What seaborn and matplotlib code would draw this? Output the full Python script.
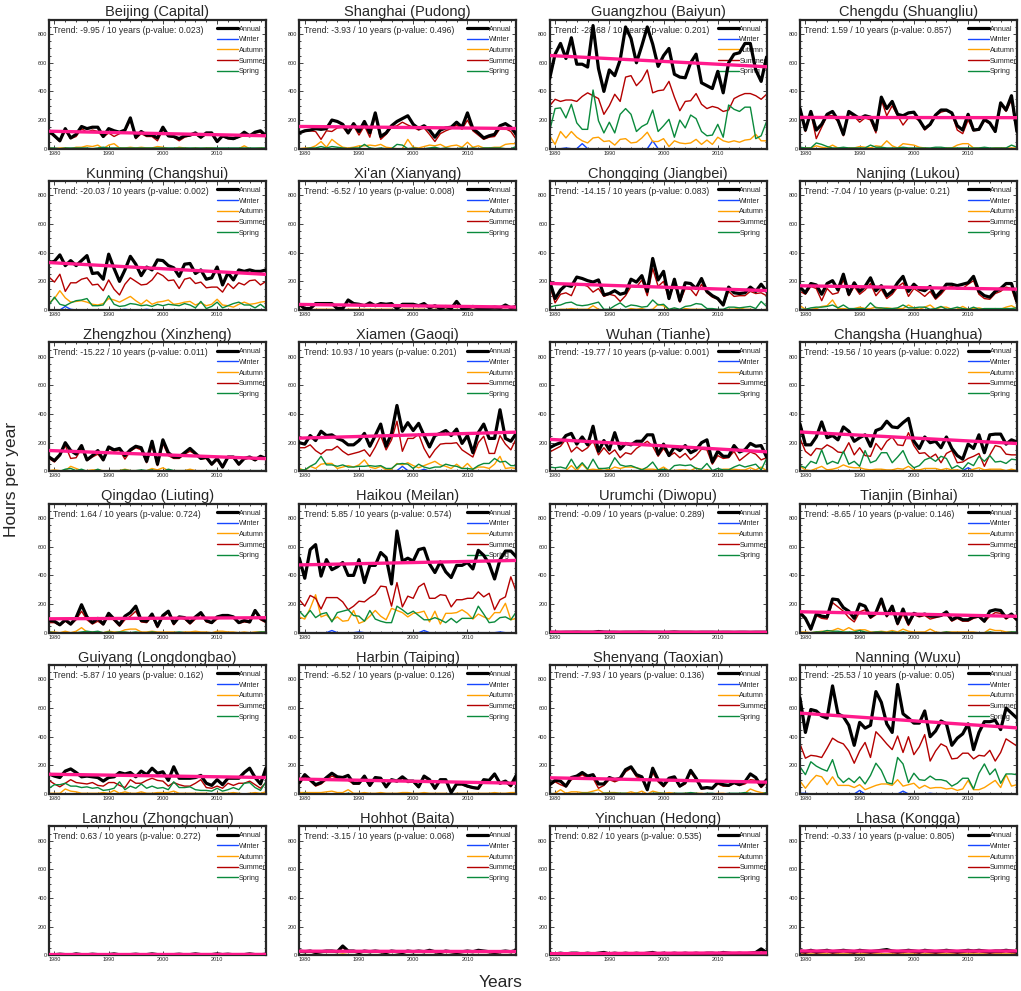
import numpy as np
import matplotlib
matplotlib.use("Agg")
import matplotlib.pyplot as plt
from matplotlib.ticker import MultipleLocator
import seaborn as sns

years = list(range(1979, 2020))

stations = ["Beijing (Capital)", "Shanghai (Pudong)", "Guangzhou (Baiyun)", "Chengdu (Shuangliu)",
            "Kunming (Changshui)", "Xi'an (Xianyang)", "Chongqing (Jiangbei)", "Nanjing (Lukou)",
            "Zhengzhou (Xinzheng)", "Xiamen (Gaoqi)", "Wuhan (Tianhe)", "Changsha (Huanghua)",
            "Qingdao (Liuting)", "Haikou (Meilan)", "Urumchi (Diwopu)", "Tianjin (Binhai)",
            "Guiyang (Longdongbao)", "Harbin (Taiping)", "Shenyang (Taoxian)", "Nanning (Wuxu)",
            "Lanzhou (Zhongchuan)", "Hohhot (Baita)", "Yinchuan (Hedong)", "Lhasa (Kongga)"]
trend_labels = ["-9.95", "-3.93", "-28.68", "1.59", "-20.03", "-6.52", "-14.15", "-7.04",
                "-15.22", "10.93", "-19.77", "-19.56", "1.64", "5.85", "-0.09", "-8.65",
                "-5.87", "-6.52", "-7.93", "-25.53", "0.63", "-3.15", "0.82", "-0.33"]
pvalue_labels = ["0.023", "0.496", "0.201", "0.857", "0.002", "0.008", "0.083", "0.21",
                 "0.011", "0.201", "0.001", "0.022", "0.724", "0.574", "0.289", "0.146",
                 "0.162", "0.126", "0.136", "0.05", "0.272", "0.068", "0.535", "0.805"]

none41 = [0, 0,0,0,0,0,0,0,0,0,0, 0,0,0,0,0,0,0,0,0,0, 0,0,0,0,0,0,0,0,0,0, 0,0,0,0,0,0,0,0,0,0]

# ---- Beijing
beijing_annual = [125, 90,55,140,75,100,155,140,150,150,85, 140,125,115,130,215,80,120,95,95,75, 150,90,85,70,90,95,110,80,110,110, 50,90,75,70,85,115,90,115,125,90]
beijing_summer = [115, 85,50,130,70,85,140,115,130,120,80, 110,85,105,120,200,70,105,85,85,55, 135,85,80,55,80,90,100,75,100,100, 45,85,70,65,80,90,85,110,115,85]
beijing_autumn = [5, 0,5,5,0,10,10,20,15,25,0, 25,35,5,5,10,5,10,5,5,15, 10,0,0,10,5,0,5,0,5,5, 0,0,0,0,0,20,0,0,5,0]
beijing_spring = [5, 5,0,5,5,5,5,5,0,5,10, 5,5,5,5,5,5,5,5,5,5, 5,5,5,5,5,5,5,5,5,5, 5,5,5,5,5,5,5,5,5,5]
beijing_winter = none41
# ---- Shanghai
shanghai_annual = [110, 125,130,140,135,140,200,190,170,110,175, 120,190,110,250,85,110,160,190,210,230, 170,140,160,130,80,130,145,150,185,150, 250,140,110,75,90,100,160,175,150,100]
shanghai_summer = [110, 120,125,120,65,125,120,145,150,105,160, 95,160,80,230,65,100,150,160,185,165, 150,130,145,100,50,105,125,140,165,135, 200,125,95,65,80,85,140,140,120,65]
shanghai_autumn = [0, 5,5,20,50,10,65,35,10,5,10, 20,20,25,20,30,10,5,0,0,65, 10,5,15,25,20,30,10,20,25,10, 45,10,20,5,5,10,10,30,35,35]
shanghai_spring = [0, 0,5,5,15,5,15,10,5,0,5, 5,30,5,0,5,0,0,30,25,0, 5,0,0,5,10,0,5,0,0,5, 0,5,0,5,5,5,5,0,0,15]
shanghai_winter = none41
# ---- Guangzhou
guangzhou_annual = [490, 660,735,630,775,590,590,570,860,560,400, 550,510,620,850,770,600,720,850,730,575, 650,700,520,500,495,600,660,460,440,420, 540,390,600,660,670,735,735,550,470,640]
guangzhou_summer = [300, 345,330,340,340,330,365,390,370,350,240, 300,380,330,500,510,440,480,550,390,405, 410,470,360,265,330,335,385,310,280,295, 285,260,270,350,370,385,385,370,345,380]
guangzhou_autumn = [90, 30,120,75,120,80,55,40,75,80,50, 55,25,65,70,40,45,75,115,50,50, 70,15,55,40,35,40,65,30,60,30, 80,55,45,55,45,60,65,100,55,55]
guangzhou_spring = [125, 280,285,215,310,180,135,135,410,195,110, 185,110,240,280,240,120,155,175,270,120, 160,205,80,200,145,235,210,120,90,95, 170,80,305,275,260,290,290,70,90,190]
guangzhou_winter = [0, 0,0,5,0,0,35,0,0,0,0, 0,0,0,0,0,0,0,0,55,0, 0,0,0,0,0,0,0,0,0,0, 0,0,0,0,0,0,0,0,0,0]
# ---- Chengdu
chengdu_annual = [280, 130,260,130,170,240,260,200,100,260,235, 210,230,220,130,360,280,330,240,230,250, 255,200,140,170,235,270,270,250,160,130, 240,130,135,205,180,120,320,270,370,120]
chengdu_summer = [270, 120,250,70,150,230,230,190,90,250,225, 185,215,200,110,340,230,300,230,165,215, 220,195,130,165,230,255,265,245,130,105, 200,125,130,195,175,115,310,260,340,110]
chengdu_autumn = [5, 5,5,20,10,5,25,5,5,5,5, 15,10,5,20,15,55,20,5,35,30, 25,10,5,0,0,0,5,5,25,35, 35,5,5,5,0,5,5,5,5,5]
chengdu_spring = [10, 5,5,40,30,15,5,5,10,5,5, 5,5,25,10,10,5,5,5,10,5, 5,5,5,5,10,10,5,5,5,5, 5,5,5,10,5,5,5,5,25,10]
chengdu_winter = none41
# ---- Kunming
kunming_annual = [330, 340,385,310,345,310,345,380,255,260,215, 390,290,200,280,375,320,240,300,280,350, 345,310,295,235,320,325,255,280,215,225, 300,175,260,210,280,270,280,270,270,280]
kunming_summer = [230, 195,250,130,190,190,215,225,175,180,135, 210,145,105,180,225,200,175,180,210,260, 240,205,210,150,215,225,185,195,155,160, 160,125,185,150,190,175,205,210,175,200]
kunming_autumn = [50, 80,135,85,55,60,65,55,40,35,45, 80,70,55,75,95,65,40,70,40,55, 60,70,40,45,55,60,35,50,30,40, 75,35,30,20,40,55,40,45,55,60]
kunming_spring = [35, 90,40,30,50,65,70,80,30,30,35, 100,40,25,30,45,40,30,35,25,40, 30,40,35,30,45,35,15,60,10,25, 55,15,30,45,55,35,35,15,40,10]
kunming_winter = [0, 0,0,25,5,0,0,0,0,0,0, 0,0,0,5,0,0,0,5,0,0, 0,0,0,0,0,0,0,0,0,0, 0,0,0,0,0,0,0,0,0,0]
# ---- Xi'an
xian_annual = [40, 10,10,45,45,45,45,10,10,70,45, 40,30,50,30,45,40,45,10,40,40, 40,30,45,15,30,10,25,10,60,10, 15,25,15,15,15,20,15,35,15,25]
xian_summer = [35, 5,5,40,40,40,40,5,5,65,40, 35,25,45,25,40,35,40,5,35,35, 35,25,40,10,25,5,20,5,55,5, 10,20,10,10,10,15,10,30,10,20]
xian_autumn = [5, 0,0,5,5,5,5,0,0,5,5, 5,5,5,5,5,5,5,0,5,5, 5,5,5,0,5,0,5,0,5,0, 0,5,0,0,0,5,0,5,0,5]
xian_spring = none41
xian_winter = none41
# ---- Chongqing
chongqing_annual = [200, 80,140,175,165,230,220,205,195,210,105, 115,135,110,120,215,195,240,130,360,210, 270,80,215,65,190,185,150,220,130,100, 80,35,160,120,115,120,160,130,180,130]
chongqing_summer = [170, 50,110,120,100,185,180,165,125,150,95, 110,100,60,100,165,160,210,100,290,165, 200,75,190,55,150,145,100,180,120,90, 75,30,130,95,100,100,130,115,120,100]
chongqing_autumn = [5, 0,5,5,10,5,5,5,30,5,0, 0,5,0,0,10,5,10,0,5,40, 30,0,5,0,10,5,5,5,0,0, 0,0,5,5,15,5,5,0,0,5]
chongqing_spring = [20, 30,35,50,55,35,30,35,45,55,5, 5,30,50,20,35,30,20,25,70,35, 40,5,15,5,25,30,45,40,10,10, 5,5,20,20,15,20,25,10,60,25]
chongqing_winter = none41
# ---- Nanjing
nanjing_annual = [160, 120,185,175,110,185,205,140,250,110,190, 130,165,225,135,170,100,130,190,235,130, 180,145,135,165,90,130,180,180,170,180, 190,235,130,100,90,130,150,185,185,60]
nanjing_summer = [130, 110,165,150,65,150,110,120,210,100,165, 110,140,185,100,145,80,110,160,190,95, 150,125,95,130,75,110,155,165,145,150, 180,205,110,80,75,115,130,160,150,40]
nanjing_autumn = [30, 5,5,10,25,30,70,10,10,5,10, 20,10,10,20,10,15,10,10,10,35, 15,5,20,35,5,20,20,5,5,25, 5,10,15,5,5,10,5,20,30,10]
nanjing_spring = [5, 5,15,20,20,25,35,15,35,10,10, 10,10,50,15,15,10,10,15,35,15, 15,20,20,5,10,25,5,10,20,10, 5,20,5,10,10,10,10,10,10,15]
nanjing_winter = none41
# ---- Zhengzhou
zhengzhou_annual = [100, 75,115,200,145,120,180,80,110,145,80, 170,150,160,110,150,175,165,70,210,50, 220,130,100,100,130,160,125,90,100,50, 90,30,100,100,50,90,100,80,105,90]
zhengzhou_summer = [90, 65,110,180,90,95,160,75,100,120,75, 160,140,150,85,140,165,150,60,180,40, 195,110,90,90,120,140,120,85,90,45, 80,25,95,95,45,85,95,75,100,85]
zhengzhou_autumn = [5, 10,5,5,35,20,5,5,10,10,5, 5,5,5,15,5,5,5,5,20,10, 25,5,5,5,5,15,5,5,5,0, 5,0,0,0,0,5,0,0,0,0]
zhengzhou_spring = [5, 0,0,15,20,5,15,0,0,15,0, 5,5,5,10,5,5,10,5,10,0, 0,15,5,5,5,5,0,0,5,5, 5,5,5,5,5,0,5,5,5,5]
zhengzhou_winter = none41
# ---- Xiamen
xiamen_annual = [200, 190,250,215,280,250,255,230,215,185,185, 215,265,175,250,330,175,265,460,280,340, 285,335,250,170,250,265,285,250,295,195, 250,130,270,330,230,230,430,230,210,265]
xiamen_summer = [165, 165,185,145,120,150,150,175,140,115,125, 135,150,105,170,250,150,220,350,140,230, 230,260,160,95,150,190,195,195,200,150, 125,100,200,245,125,125,250,190,150,230]
xiamen_autumn = [20, 5,35,20,50,55,55,20,30,40,30, 45,80,30,20,35,10,15,55,45,60, 40,25,40,55,70,45,35,20,50,20, 55,15,30,30,20,50,105,20,25,20]
xiamen_spring = [10, 10,35,55,105,45,45,35,45,30,30, 35,35,40,35,40,20,20,50,55,50, 20,50,30,20,30,30,50,40,35,20, 20,15,40,55,55,90,65,70,40,40]
xiamen_winter = [0, 0,0,0,0,0,0,0,0,0,0, 0,0,0,0,0,0,0,5,35,5, 0,0,15,0,0,0,0,0,0,0, 0,0,0,0,0,0,0,0,0,0]
# ---- Wuhan
wuhan_annual = [165, 185,200,250,265,190,240,185,315,140,215, 150,270,155,195,185,210,210,255,255,120, 190,110,170,145,180,130,150,200,220,65, 140,105,105,180,135,150,195,175,180,100]
wuhan_summer = [135, 155,175,225,135,170,140,165,215,115,165, 120,150,95,130,120,160,185,210,175,105, 160,105,130,95,125,80,110,155,150,50, 110,90,95,140,75,105,135,120,80,95]
wuhan_autumn = [5, 5,5,5,40,5,50,10,15,10,20, 10,30,20,30,30,25,15,15,15,10, 30,5,5,10,10,5,25,5,10,5, 5,15,15,15,10,10,25,10,30,5]
wuhan_spring = [30, 25,30,20,85,20,60,15,85,20,20, 25,95,45,35,40,25,10,30,65,10, 15,5,40,45,40,45,20,15,55,5, 20,10,10,30,45,30,40,50,10,90]
wuhan_winter = none41
# ---- Changsha
changsha_annual = [330, 185,185,240,345,235,250,220,310,280,210, 235,255,175,285,300,350,310,305,340,370, 210,160,240,200,210,165,240,160,110,85, 190,160,255,130,255,260,260,190,220,205]
changsha_summer = [230, 140,110,160,155,185,165,135,130,200,115, 165,110,105,195,150,210,240,185,180,270, 180,125,130,95,120,60,125,145,60,65, 90,105,125,35,115,180,170,120,115,115]
changsha_autumn = [35, 10,5,20,35,10,15,25,45,30,25, 25,15,10,15,15,10,10,20,15,35, 10,10,20,20,20,10,20,10,10,5, 5,15,25,10,15,15,15,5,15,5]
changsha_spring = [40, 25,70,55,150,50,70,55,140,50,70, 35,145,60,75,130,130,60,100,145,60, 25,40,80,95,70,105,90,20,40,15, 60,40,105,70,110,65,70,55,85,80]
changsha_winter = [0, 0,0,0,0,0,0,0,0,0,0, 0,0,0,0,0,0,0,0,0,0, 0,0,0,0,0,0,0,0,0,5, 25,5,0,0,0,0,0,0,0,0]
# ---- Qingdao
qingdao_annual = [85, 80,55,90,60,105,195,110,70,100,60, 135,95,55,115,140,185,85,80,130,45, 120,150,65,110,105,70,110,140,85,70, 110,120,120,110,70,85,75,155,100,80]
qingdao_summer = [70, 70,50,80,55,90,150,90,60,80,55, 120,85,45,90,115,150,75,70,115,35, 110,140,55,105,95,60,95,130,75,65, 95,110,110,100,65,75,70,145,90,70]
qingdao_autumn = [5, 5,0,10,0,10,35,5,5,5,0, 10,5,5,20,25,25,5,5,10,5, 5,5,5,0,5,5,10,5,5,0, 10,10,5,5,0,5,0,5,5,5]
qingdao_spring = [5, 0,0,0,0,0,5,10,5,10,0, 5,0,5,5,0,5,0,0,5,0, 0,0,0,5,0,0,0,0,0,0, 0,0,0,0,0,0,0,0,5,5]
qingdao_winter = none41
# ---- Haikou
haikou_annual = [520, 380,580,615,395,510,440,460,490,400,400, 510,350,470,470,560,525,340,710,500,520, 500,580,590,480,420,495,425,385,470,470, 490,445,575,540,480,375,510,570,570,530]
haikou_summer = [230, 185,260,240,165,245,245,245,215,160,185, 220,215,245,270,325,320,185,350,180,255, 240,320,345,240,240,265,260,180,230,230, 240,240,285,250,275,160,230,250,390,285]
haikou_autumn = [110, 95,170,265,110,125,85,110,80,85,155, 65,80,115,155,115,90,170,155,140,110, 135,140,150,75,150,60,135,135,140,160, 135,95,130,110,95,140,140,205,90,100]
haikou_spring = [150, 110,155,105,130,140,75,140,150,160,120, 115,80,155,95,80,70,70,185,160,130, 150,120,90,90,105,90,70,100,70,100, 100,100,185,130,70,75,105,110,90,145]
haikou_winter = [0, 0,0,0,0,0,15,0,0,0,0, 5,0,0,0,0,0,0,0,0,0, 0,0,15,0,0,0,0,0,0,0, 0,0,0,0,0,0,5,0,0,0]
# ---- Urumchi
urumchi_annual = [3, 3,2,3,3,4,3,3,3,8,4, 3,3,2,3,3,3,4,3,3,3, 2,3,5,3,3,3,2,3,3,3, 2,3,3,2,3,3,2,3,3,3]
urumchi_summer = [2, 2,1,2,2,3,2,2,2,6,3, 2,2,1,2,2,2,3,2,2,2, 1,2,4,2,2,2,1,2,2,2, 1,2,2,1,2,2,1,2,2,2]
urumchi_autumn = [1, 1,1,1,1,1,1,1,1,2,1, 1,1,1,1,1,1,1,1,1,1, 1,1,1,1,1,1,1,1,1,1, 1,1,1,1,1,1,1,1,1,1]
urumchi_spring = none41
urumchi_winter = none41
# ---- Tianjin
tianjin_annual = [140, 100,25,130,115,110,235,230,175,150,100, 200,185,110,140,235,120,185,65,165,65, 135,120,130,115,115,120,145,90,110,90, 90,110,115,80,150,160,155,105,130,90]
tianjin_summer = [130, 95,20,120,100,95,210,180,150,105,75, 145,160,100,125,215,110,165,55,130,50, 125,110,120,95,105,115,130,80,100,80, 80,100,110,75,115,140,135,95,120,85]
tianjin_autumn = [5, 5,0,5,10,10,15,30,15,35,15, 20,20,5,5,10,5,15,5,25,10, 5,5,5,25,5,0,5,5,5,5, 5,5,0,0,25,15,15,5,5,0]
tianjin_spring = [0, 0,0,5,5,15,10,10,5,5,5, 15,5,0,5,5,0,5,0,5,0, 0,0,0,0,0,0,5,0,0,0, 0,0,0,0,5,0,0,0,5,5]
tianjin_winter = none41
# ---- Guiyang
guiyang_annual = [140, 125,115,160,175,150,120,125,120,115,90, 115,120,150,140,150,120,160,135,180,145, 155,95,190,110,110,110,115,130,75,60, 100,65,110,110,110,150,180,115,70,180]
guiyang_summer = [95, 70,50,75,100,80,75,70,80,60,55, 80,80,60,45,100,75,75,95,110,95, 90,55,80,65,55,55,75,100,45,40, 55,40,75,60,75,75,90,65,40,80]
guiyang_autumn = [5, 5,5,35,20,15,5,5,5,5,10, 5,25,5,15,5,5,15,5,5,10, 10,10,20,5,5,5,5,5,5,0, 5,5,5,10,5,0,5,10,5,15]
guiyang_spring = [40, 65,65,75,55,55,45,50,40,45,25, 30,40,85,30,55,40,70,40,55,40, 45,30,85,45,45,50,30,25,25,20, 40,20,30,45,30,75,80,45,25,85]
guiyang_winter = none41
# ---- Harbin
harbin_annual = [80, 135,100,65,80,115,145,120,115,130,75, 75,125,60,115,110,50,100,90,120,90, 90,50,125,100,40,100,100,10,70,70, 55,45,40,100,95,140,75,90,60,130]
harbin_summer = [70, 120,90,55,70,100,125,110,105,95,70, 70,115,55,110,100,45,95,85,110,80, 85,45,115,95,35,95,95,10,65,65, 50,40,35,95,90,130,70,85,50,120]
harbin_autumn = [10, 10,10,10,10,15,20,10,10,30,5, 5,10,5,5,10,5,5,5,10,10, 5,5,10,5,5,5,5,0,5,5, 5,5,5,5,5,10,5,5,10,10]
harbin_spring = [0, 5,0,0,0,0,0,0,0,5,0, 0,0,0,0,0,0,0,0,0,0, 0,0,0,0,0,0,0,0,0,0, 0,0,0,0,0,0,0,0,0,0]
harbin_winter = none41
# ---- Shenyang
shenyang_annual = [65, 95,90,55,115,125,150,125,135,70,70, 115,100,110,170,190,135,120,30,180,100, 60,110,120,55,80,165,110,40,45,40, 80,65,60,80,65,85,140,115,55,100]
shenyang_summer = [60, 85,65,50,100,110,135,110,110,40,60, 100,85,100,155,180,120,105,25,150,85, 50,95,110,50,70,150,100,35,40,35, 70,55,55,75,60,70,100,95,45,80]
shenyang_autumn = [0, 5,30,5,15,15,10,10,20,30,5, 10,10,5,5,15,5,20,0,20,10, 5,10,5,0,5,5,5,5,0,0, 5,5,0,0,0,5,35,20,10,5]
shenyang_spring = [5, 0,0,0,0,0,5,5,5,0,5, 5,5,5,5,0,5,0,0,5,5, 5,0,5,5,5,10,5,0,5,5, 0,0,5,5,5,10,5,0,0,10]
shenyang_winter = none41
# ---- Nanning
nanning_annual = [670, 430,590,580,545,530,755,560,540,480,340, 500,460,480,715,640,490,430,765,560,530, 495,495,580,400,440,510,490,340,390,420, 490,310,430,505,505,515,450,600,565,530]
nanning_summer = [350, 250,270,265,255,320,390,365,350,300,215, 300,360,255,435,395,350,310,405,290,400, 275,330,415,230,300,350,330,245,250,285, 285,245,270,265,305,230,290,385,360,335]
nanning_autumn = [90, 40,90,130,120,65,120,60,60,60,45, 65,30,45,60,70,70,60,100,55,65, 75,40,60,40,45,45,35,40,25,35, 95,30,30,45,70,95,45,135,55,65]
nanning_spring = [190, 135,225,195,175,160,240,120,80,110,80, 120,70,130,215,165,80,70,255,210,80, 145,100,95,125,100,100,90,55,75,110, 110,35,145,210,135,175,75,140,140,135]
nanning_winter = [5, 5,0,0,0,0,0,0,0,0,0, 25,0,0,0,0,0,0,0,20,0, 0,0,0,5,0,0,0,0,0,0, 0,0,0,0,0,0,0,0,0,0]
# ---- Lanzhou
lanzhou_annual = [5, 4,8,5,3,10,5,4,8,5,3, 5,10,4,5,5,8,4,5,10,5, 3,5,5,8,4,5,10,5,4,5, 10,5,8,4,5,5,10,5,4,8]
lanzhou_summer = [4, 3,6,4,2,8,4,3,6,4,2, 4,8,3,4,4,6,3,4,8,4, 2,4,4,6,3,4,8,4,3,4, 8,4,6,3,4,4,8,4,3,6]
lanzhou_autumn = [1, 1,2,1,1,2,1,1,2,1,1, 1,2,1,1,1,2,1,1,2,1, 1,1,1,2,1,1,2,1,1,1, 2,1,2,1,1,1,2,1,1,2]
lanzhou_spring = none41
lanzhou_winter = none41
# ---- Hohhot
hohhot_annual = [30, 25,30,20,25,30,30,25,65,30,30, 20,30,25,30,25,20,30,25,20,30, 25,30,25,35,25,20,30,25,20,25, 30,25,35,30,25,20,25,30,25,35]
hohhot_summer = [25, 20,25,15,20,25,25,20,55,25,25, 15,25,20,25,20,15,25,20,15,25, 20,25,20,30,20,15,25,20,15,20, 25,20,30,25,20,15,20,25,20,30]
hohhot_autumn = [5, 5,5,5,5,5,5,5,10,5,5, 5,5,5,5,5,5,5,5,5,5, 5,5,5,5,5,5,5,5,5,5, 5,5,5,5,5,5,5,5,5,5]
hohhot_spring = none41
hohhot_winter = none41
# ---- Yinchuan
yinchuan_annual = [15, 10,15,10,15,15,10,15,10,15,20, 10,15,10,15,10,15,10,15,20,10, 15,10,15,10,15,10,15,10,15,15, 10,20,15,10,15,10,15,20,45,20]
yinchuan_summer = [10, 5,10,5,10,10,5,10,5,10,15, 5,10,5,10,5,10,5,10,15,5, 10,5,10,5,10,5,10,5,10,10, 5,15,10,5,10,5,10,15,35,15]
yinchuan_autumn = [5, 5,5,5,5,5,5,5,5,5,5, 5,5,5,5,5,5,5,5,5,5, 5,5,5,5,5,5,5,5,5,5, 5,5,5,5,5,5,5,5,10,5]
yinchuan_spring = none41
yinchuan_winter = none41
# ---- Lhasa
lhasa_annual = [30, 25,35,25,30,35,25,30,35,30,25, 35,30,25,30,35,40,30,25,30,35, 30,25,35,30,25,30,35,30,25,30, 35,30,35,30,25,30,30,35,30,25]
lhasa_summer = [20, 15,25,15,20,25,15,20,25,20,15, 25,20,15,20,25,30,20,15,20,25, 20,15,25,20,15,20,25,20,15,20, 25,20,25,20,15,20,20,25,20,15]
lhasa_autumn = [10, 8,10,8,10,10,8,10,10,10,8, 10,10,8,10,10,10,10,8,10,10, 10,8,10,10,8,10,10,10,8,10, 10,10,10,10,8,10,10,10,10,8]
lhasa_spring = none41
lhasa_winter = none41

keys = ["beijing", "shanghai", "guangzhou", "chengdu", "kunming", "xian", "chongqing", "nanjing",
        "zhengzhou", "xiamen", "wuhan", "changsha", "qingdao", "haikou", "urumchi", "tianjin",
        "guiyang", "harbin", "shenyang", "nanning", "lanzhou", "hohhot", "yinchuan", "lhasa"]

legend_order = ["Annual", "Winter", "Autumn", "Summer", "Spring"]
draw_order = ["Winter", "Autumn", "Summer", "Spring", "Annual"]
colors = {"Annual": "black", "Winter": "#1546ff", "Autumn": "#ffa000",
          "Summer": "#b40000", "Spring": "#0a8a3c"}
widths = {"Annual": 2.3, "Winter": 1.0, "Autumn": 1.0, "Summer": 1.0, "Spring": 1.0}
trend_color = "#ff1a8c"

g = globals()
for k in keys:
    for s in legend_order:
        n = len(g[f"{k}_{s.lower()}"])
        if n != len(years):
            raise ValueError(f"{k}_{s.lower()} has {n} values")

sns.set_style("ticks")
plt.rcParams["font.family"] = ["Liberation Sans", "DejaVu Sans"]

fig, axes = plt.subplots(6, 4, figsize=(10.21, 9.91), dpi=100)
fig.subplots_adjust(left=0.048, right=0.996, top=0.98, bottom=0.036, wspace=0.154, hspace=0.252)

yrs = np.array(years)
for idx, ax in enumerate(axes.flat):
    k = keys[idx]
    lines = {}
    for s in draw_order:
        vals = g[f"{k}_{s.lower()}"]
        sns.lineplot(x=years, y=vals, ax=ax, color=colors[s], linewidth=widths[s],
                     legend=False, errorbar=None, zorder=3 if s == "Annual" else 2)
        lines[s] = ax.get_lines()[-1]
    ann = np.array(g[f"{k}_annual"], dtype=float)
    coef = np.polyfit(yrs, ann, 1)
    ax.plot(yrs, np.polyval(coef, yrs), color=trend_color, linewidth=2.4, zorder=4)

    ax.set_xlim(1979, 2019)
    ax.set_ylim(0, 900)
    ax.set_xticks([1980, 1990, 2000, 2010])
    ax.set_yticks([0, 200, 400, 600, 800])
    ax.xaxis.set_minor_locator(MultipleLocator(2))
    ax.yaxis.set_minor_locator(MultipleLocator(50))
    ax.tick_params(which="both", direction="in", top=True, right=True, labelsize=4.0,
                   width=0.6, pad=1.5)
    ax.tick_params(which="major", length=3)
    ax.tick_params(which="minor", length=1.6)
    for sp in ax.spines.values():
        sp.set_linewidth(1.6)
    ax.set_xlabel("")
    ax.set_ylabel("")
    ax.set_title(stations[idx], fontsize=10.5, pad=2.5)
    ax.text(0.02, 0.955, f"Trend: {trend_labels[idx]} / 10 years (p-value: {pvalue_labels[idx]})",
            transform=ax.transAxes, fontsize=6.2, va="top", ha="left", zorder=1)
    leg = ax.legend([lines[s] for s in legend_order], legend_order, loc="upper left",
                    bbox_to_anchor=(0.775, 0.955), frameon=False, fontsize=5.2,
                    handlelength=2.9, handletextpad=0.1, labelspacing=0.5,
                    borderaxespad=0, borderpad=0)
    leg.set_zorder(1)

fig.text(0.011, 0.516, "Hours per year", rotation=90, ha="center", va="center", fontsize=12.5)
fig.text(0.49, 0.009, "Years", ha="center", va="center", fontsize=12.5)

fig.savefig("out.png", dpi=100)
